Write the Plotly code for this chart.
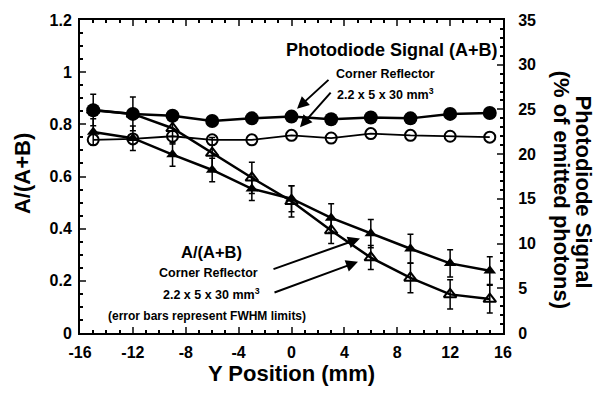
import plotly.graph_objects as go

y_pos = [-15, -12, -9, -6, -3, 0, 3, 6, 9, 12, 15]

# Photodiode signal (% of emitted photons), right axis
signal_filled = [24.9, 24.5, 24.3, 23.7, 24.0, 24.2, 23.9, 24.1, 24.0, 24.5, 24.6]
signal_open = [21.6, 21.7, 22.0, 21.6, 21.6, 22.1, 21.8, 22.3, 22.1, 22.0, 21.9]

# A/(A+B), left axis
ratio_filled = [0.771, 0.747, 0.684, 0.625, 0.553, 0.515, 0.441, 0.381, 0.323, 0.267, 0.239]
ratio_filled_err = [0.05, 0.047, 0.045, 0.045, 0.045, 0.05, 0.055, 0.054, 0.056, 0.052, 0.053]
ratio_open = [0.855, 0.84, 0.785, 0.69, 0.595, 0.505, 0.393, 0.289, 0.211, 0.148, 0.130]
ratio_open_err = [0.06, 0.065, 0.06, 0.06, 0.06, 0.06, 0.05, 0.046, 0.057, 0.056, 0.053]

x_ticks = [-16, -12, -8, -4, 0, 4, 8, 12, 16]
x_tick_text = ["-16", "-12", "-8", "-4", "0", "4", "8", "12", "16"]
y_ticks = [0, 0.2, 0.4, 0.6, 0.8, 1.0, 1.2]
y_tick_text = ["0", "0.2", "0.4", "0.6", "0.8", "1", "1.2"]
y2_ticks = [0, 5, 10, 15, 20, 25, 30, 35]

FONT = "Liberation Sans"
BLACK = "black"

fig = go.Figure()

err_style = dict(type="data", color=BLACK, thickness=1.5, width=3, visible=True)

fig.add_trace(go.Scatter(
    x=y_pos, y=ratio_open, mode="lines+markers",
    line=dict(color=BLACK, width=2.5),
    marker=dict(symbol="triangle-up-open", size=11, color=BLACK, line=dict(width=2, color=BLACK)),
    error_y=dict(array=ratio_open_err, **err_style),
    yaxis="y", showlegend=False))

fig.add_trace(go.Scatter(
    x=y_pos, y=ratio_filled, mode="lines+markers",
    line=dict(color=BLACK, width=2.5),
    marker=dict(symbol="triangle-up", size=11, color=BLACK),
    error_y=dict(array=ratio_filled_err, **err_style),
    yaxis="y", showlegend=False))

fig.add_trace(go.Scatter(
    x=y_pos, y=signal_open, mode="lines+markers",
    line=dict(color=BLACK, width=1.8),
    marker=dict(symbol="circle-open", size=11, color=BLACK, line=dict(width=2, color=BLACK)),
    yaxis="y2", showlegend=False))

fig.add_trace(go.Scatter(
    x=y_pos, y=signal_filled, mode="lines+markers",
    line=dict(color=BLACK, width=2.5),
    marker=dict(symbol="circle", size=14, color=BLACK),
    yaxis="y2", showlegend=False))

tickfont = dict(family=FONT, size=16, color=BLACK, weight="bold")

fig.update_layout(
    width=598, height=393,
    margin=dict(l=80, r=95, t=17, b=55),
    paper_bgcolor="white", plot_bgcolor="white",
    font=dict(family=FONT, color=BLACK),
    xaxis=dict(
        range=[-16, 16], tickvals=x_ticks, ticktext=x_tick_text, ticks="inside", ticklen=6, tickwidth=1.5,
        showline=True, linecolor=BLACK, linewidth=2, mirror="ticks",
        showgrid=False, zeroline=False, tickfont=tickfont, ticklabelstandoff=4,
        minor=dict(dtick=1, tick0=0, ticks="inside", ticklen=3, tickcolor=BLACK, showgrid=False),
        title=dict(text="Y Position (mm)", font=dict(family=FONT, size=22, color=BLACK, weight="bold"), standoff=4),
    ),
    yaxis=dict(
        range=[0, 1.2], tickvals=y_ticks, ticktext=y_tick_text, ticks="inside", ticklen=6, tickwidth=1.5,
        showline=True, linecolor=BLACK, linewidth=2,
        showgrid=False, zeroline=False, tickfont=tickfont, ticklabelstandoff=3,
        minor=dict(dtick=0.05, tick0=0, ticks="inside", ticklen=3, tickcolor=BLACK, showgrid=False),
    ),
    yaxis2=dict(
        range=[0, 35], tickvals=y2_ticks, overlaying="y", side="right", ticks="inside", ticklen=6, tickwidth=1.5,
        showline=True, linecolor=BLACK, linewidth=2,
        showgrid=False, zeroline=False, tickfont=tickfont, ticklabelstandoff=10,
        minor=dict(dtick=1, tick0=0, ticks="inside", ticklen=3, tickcolor=BLACK, showgrid=False),
    ),
)

# pixel -> domain helpers (plot area: x 80..503, y 17..338)
def px(xp):
    return (xp - 80) / (503 - 80)

def py(yp):
    return (338 - yp) / (338 - 17)

def txt(x, y, s, size, angle=0):
    fig.add_annotation(x=px(x), y=py(y), xref="x domain", yref="y domain", text=s, showarrow=False,
                       textangle=angle, xanchor="center", yanchor="middle",
                       font=dict(family=FONT, size=size, color=BLACK, weight="bold"))

txt(392, 48, "Photodiode Signal (A+B)", 18)
txt(385, 72, "Corner Reflector", 12.5)
txt(385, 93, "2.2 x 5 x 30 mm<sup>3</sup>", 12.5)

txt(211, 255, "A/(A+B)", 16.5)
txt(208, 276, "Corner Reflector", 12.5)
txt(211, 298, "2.2 x 5 x 30 mm<sup>3</sup>", 12.5)
txt(207, 321, "(error bars represent FWHM limits)", 12)

# axis titles
txt(22, 175, "A/(A+B)", 22, angle=-90)
txt(583, 193, "Photodiode Signal", 22, angle=90)
txt(561, 191, "(% of emitted photons)", 22, angle=90)

def arrow(x0, y0, x1, y1):
    fig.add_annotation(x=px(x1), y=py(y1), ax=px(x0), ay=py(y0), xref="x domain", yref="y domain",
                       axref="x domain", ayref="y domain", text="", showarrow=True,
                       arrowhead=2, arrowsize=1.2, arrowwidth=2, arrowcolor=BLACK)

arrow(330, 77, 297, 108)
arrow(332, 90, 300, 127)
arrow(272, 273, 360, 241)
arrow(273, 297, 358, 265)

fig.write_html("out.html")
